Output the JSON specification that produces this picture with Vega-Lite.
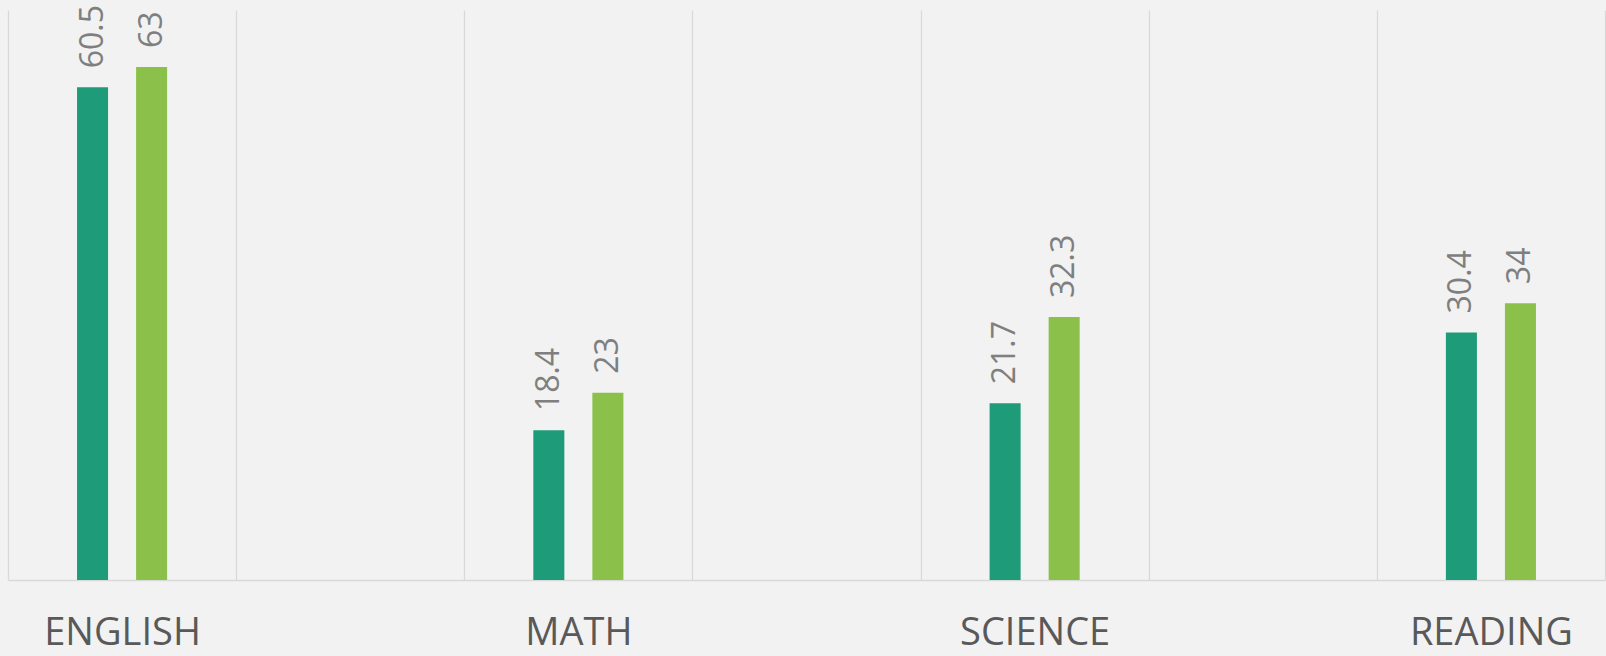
{
  "$schema": "https://vega.github.io/schema/vega-lite/v6.json",
  "width": 1597,
  "height": 570,
  "autosize": {"type": "none"},
  "padding": {"left": 8, "top": 10, "right": 1, "bottom": 76},
  "background": "#f2f2f2",
  "config": {"view": {"stroke": null}, "font": "Open Sans"},
  "data": {
    "values": [
      {"subject": "ENGLISH", "series": "Series 1", "value": 60.5},
      {"subject": "ENGLISH", "series": "Series 2", "value": 63},
      {"subject": "MATH", "series": "Series 1", "value": 18.4},
      {"subject": "MATH", "series": "Series 2", "value": 23},
      {"subject": "SCIENCE", "series": "Series 1", "value": 21.7},
      {"subject": "SCIENCE", "series": "Series 2", "value": 32.3},
      {"subject": "READING", "series": "Series 1", "value": 30.4},
      {"subject": "READING", "series": "Series 2", "value": 34}
    ]
  },
  "encoding": {
    "x": {
      "field": "subject",
      "type": "nominal",
      "sort": null,
      "scale": {
        "domain": ["ENGLISH", " ", "MATH", "  ", "SCIENCE", "   ", "READING"],
        "paddingInner": 0,
        "paddingOuter": 0
      },
      "axis": {
        "title": null,
        "labelAngle": 0,
        "tickBand": "extent",
        "grid": true,
        "gridColor": "#d9d9d9",
        "gridWidth": 1.3,
        "ticks": false,
        "tickSize": 0,
        "domainColor": "#d9d9d9",
        "domainWidth": 1.3,
        "labelFont": "Open Sans",
        "labelFontSize": 38,
        "labelColor": "#595959",
        "labelPadding": 64,
        "labelBaseline": "alphabetic"
      }
    },
    "xOffset": {
      "field": "series",
      "type": "nominal",
      "scale": {
        "domain": ["_pad_a", "Series 1", "Series 2", "_pad_b"],
        "paddingInner": 0.4746,
        "paddingOuter": 0.169
      }
    },
    "y": {
      "field": "value",
      "type": "quantitative",
      "scale": {"domain": [0, 70]},
      "axis": null
    }
  },
  "layer": [
    {
      "mark": {"type": "bar"},
      "encoding": {
        "color": {
          "field": "series",
          "type": "nominal",
          "scale": {"domain": ["Series 1", "Series 2"], "range": ["#1e9b78", "#8bc14a"]},
          "legend": null
        }
      }
    },
    {
      "mark": {
        "type": "text",
        "angle": 270,
        "align": "left",
        "baseline": "middle",
        "dx": 19,
        "fontSize": 32,
        "color": "#7f7f7f",
        "font": "Open Sans"
      },
      "encoding": {"text": {"field": "value", "type": "quantitative"}}
    }
  ]
}
